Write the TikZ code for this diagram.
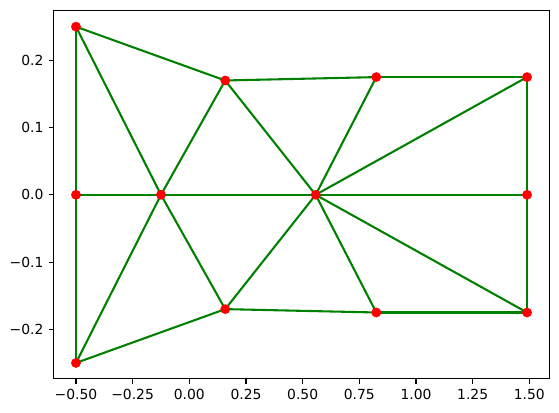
\documentclass[tikz,border=0pt]{standalone}
\usepackage{fontspec}
\setmainfont{DejaVu Sans}
\begin{document}
\begin{tikzpicture}[x=1pt,y=1pt,
  edge/.style={draw={rgb,255:red,0;green,128;blue,0}, line width=1.5pt},
  marker/.style={circle, fill=red, draw=red, line width=1pt, minimum size=6pt, inner sep=0pt},
  frame/.style={draw=black, line width=0.8pt},
  tick/.style={draw=black, line width=0.8pt},
  ticklab/.style={font=\fontsize{10pt}{12pt}\selectfont, inner sep=0pt}]
\useasboundingbox (0,0) rectangle (402.48,297.36);
\begin{scope}[shift={(136.3pt,157.1pt)}, x=163.2pt, y=484.2pt]
  % data points
  \coordinate (A) at (-0.5,0.25);
  \coordinate (B) at (-0.5,0);
  \coordinate (C) at (-0.5,-0.25);
  \coordinate (D) at (-0.125,0);
  \coordinate (E) at (0.1585,0.170);
  \coordinate (L) at (0.1585,-0.170);
  \coordinate (G) at (0.5575,0);
  \coordinate (F) at (0.825,0.175);
  \coordinate (K) at (0.825,-0.175);
  \coordinate (H) at (1.49,0.175);
  \coordinate (I) at (1.49,0);
  \coordinate (J) at (1.49,-0.175);
  % edges
  \draw[edge] (A) -- (B);
  \draw[edge] (B) -- (C);
  \draw[edge] (A) -- (D);
  \draw[edge] (A) -- (E);
  \draw[edge] (B) -- (D);
  \draw[edge] (C) -- (D);
  \draw[edge] (C) -- (L);
  \draw[edge] (D) -- (E);
  \draw[edge] (D) -- (L);
  \draw[edge] (D) -- (G);
  \draw[edge] (E) -- (G);
  \draw[edge] (E) -- (F);
  \draw[edge] (F) -- (G);
  \draw[edge] (F) -- (H);
  \draw[edge] (G) -- (H);
  \draw[edge] (G) -- (I);
  \draw[edge] (H) -- (I);
  \draw[edge] (G) -- (J);
  \draw[edge] (I) -- (J);
  \draw[edge] (G) -- (K);
  \draw[edge] (K) -- (J);
  \draw[edge] (G) -- (L);
  \draw[edge] (L) -- (K);
  % markers
  \foreach \p in {A,B,C,D,E,L,G,F,K,H,I,J}
    \node[marker] (m\p) at (\p) {};
  % frame
  \coordinate (fbl) at (-0.5993,-0.2738);
  \coordinate (ftr) at (1.5889,0.2738);
  \draw[frame] (fbl) rectangle (ftr);
  % x ticks
  \foreach \v/\t in {-0.5/{−0.50},-0.25/{−0.25},0/{0.00},0.25/{0.25},0.5/{0.50},0.75/{0.75},1/{1.00},1.25/{1.25},1.5/{1.50}} {
    \draw[tick] (\v,-0.2738) -- ++(0,-3.5pt) coordinate (xt);
    \node[ticklab, anchor=north] at ([yshift=-3.5pt]xt) {\t};
  }
  % y ticks
  \foreach \v/\t in {-0.2/{−0.2},-0.1/{−0.1},0/{0.0},0.1/{0.1},0.2/{0.2}} {
    \draw[tick] (-0.5993,\v) -- ++(-3.5pt,0) coordinate (yt);
    \node[ticklab, anchor=east] at ([xshift=-3.5pt]yt) {\t};
  }
\end{scope}
\end{tikzpicture}
\end{document}
